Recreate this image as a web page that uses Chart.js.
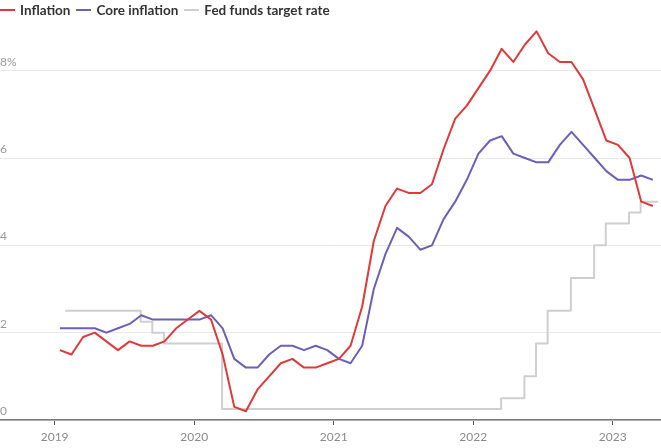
<!DOCTYPE html>
<html>
<head>
<meta charset="utf-8">
<script src="https://cdn.jsdelivr.net/npm/chart.js@4/dist/chart.umd.min.js"></script>
<style>
  html, body { margin: 0; padding: 0; background: #fff; }
  #wrap { position: relative; width: 661px; height: 448px; }
  #legend {
    position: absolute; left: 0; top: 0; height: 20px;
    display: flex; align-items: center;
    font-family: Lato, "Open Sans", sans-serif; font-weight: 700; font-size: 13.5px; color: #333;
  }
  #legend .item { display: flex; align-items: center; margin-right: 6px; }
  #legend .swatch { display: inline-block; width: 15px; height: 2px; margin-right: 5px; }
</style>
</head>
<body>
<div id="wrap">
  <canvas id="chart" width="661" height="448"></canvas>
  <div id="legend"></div>
</div>
<script>
// Monthly series, Jan 2019 – Apr 2023 (annual % change / upper bound of target range)
const yearLabels = ['2019', '2020', '2021', '2022', '2023'];

const inflation = [
  1.6, 1.5, 1.9, 2.0, 1.8, 1.6, 1.8, 1.7, 1.7, 1.8, 2.1, 2.3,
  2.5, 2.3, 1.5, 0.3, 0.2, 0.7, 1.0, 1.3, 1.4, 1.2, 1.2, 1.3,
  1.4, 1.7, 2.6, 4.1, 4.9, 5.3, 5.2, 5.2, 5.4, 6.2, 6.9, 7.2,
  7.6, 8.0, 8.5, 8.2, 8.6, 8.9, 8.4, 8.2, 8.2, 7.8, 7.1, 6.4,
  6.3, 6.0, 5.0, 4.9
];

const coreInflation = [
  2.1, 2.1, 2.1, 2.1, 2.0, 2.1, 2.2, 2.4, 2.3, 2.3, 2.3, 2.3,
  2.3, 2.4, 2.1, 1.4, 1.2, 1.2, 1.5, 1.7, 1.7, 1.6, 1.7, 1.6,
  1.4, 1.3, 1.7, 3.0, 3.8, 4.4, 4.2, 3.9, 4.0, 4.6, 5.0, 5.5,
  6.1, 6.4, 6.5, 6.1, 6.0, 5.9, 5.9, 6.3, 6.6, 6.3, 6.0, 5.7,
  5.5, 5.5, 5.6, 5.5
];

const fedFundsRate = [
  2.5, 2.5, 2.5, 2.5, 2.5, 2.5, 2.5, 2.25, 2.0, 1.75, 1.75, 1.75,
  1.75, 1.75, 0.25, 0.25, 0.25, 0.25, 0.25, 0.25, 0.25, 0.25, 0.25, 0.25,
  0.25, 0.25, 0.25, 0.25, 0.25, 0.25, 0.25, 0.25, 0.25, 0.25, 0.25, 0.25,
  0.25, 0.25, 0.5, 0.5, 1.0, 1.75, 2.5, 2.5, 3.25, 3.25, 4.0, 4.5,
  4.5, 4.75, 5.0, 5.0
];

const seriesNames = ['Inflation', 'Core inflation', 'Fed funds target rate'];
const seriesColors = ['#e0393b', '#6b5fb6', '#cfcfcf'];

// x is measured in months from Jan 1 2019: price data sit mid-month, the policy rate at month end
const midMonth = (arr) => arr.map((v, i) => ({ x: i + 0.45, y: v }));
const monthEnd = (arr) => arr.map((v, i) => ({ x: i + 0.9, y: v }));

const tickFont = { family: 'Lato, "Open Sans", sans-serif', size: 12 };

new Chart(document.getElementById('chart'), {
  type: 'line',
  data: {
    datasets: [
      { label: seriesNames[0], data: midMonth(inflation), borderColor: seriesColors[0], borderWidth: 2 },
      { label: seriesNames[1], data: midMonth(coreInflation), borderColor: seriesColors[1], borderWidth: 2 },
      { label: seriesNames[2], data: monthEnd(fedFundsRate), borderColor: seriesColors[2], borderWidth: 2, stepped: 'middle' }
    ]
  },
  options: {
    responsive: false,
    animation: false,
    layout: { padding: { top: 27, bottom: 0, left: 0, right: 0 } },
    elements: { point: { radius: 0 }, line: { tension: 0, borderJoinStyle: 'round' } },
    plugins: { legend: { display: false }, tooltip: { enabled: false } },
    scales: {
      x: {
        type: 'linear',
        min: -4.7,
        max: 52.15,
        afterBuildTicks: (scale) => {
          scale.ticks = yearLabels.map((_, k) => ({ value: k * 12 }));
        },
        afterFit: (scale) => { scale.height = 28; },
        ticks: {
          callback: (v) => yearLabels[Math.round(v / 12)],
          color: '#8a8a8a',
          font: tickFont,
          padding: 5,
          maxRotation: 0,
          autoSkip: false
        },
        grid: { drawOnChartArea: false, drawTicks: true, tickLength: 5, color: '#555', lineWidth: 1 },
        border: { display: true, color: '#777', width: 1.5 }
      },
      y: {
        min: 0,
        max: 9,
        ticks: {
          stepSize: 2,
          includeBounds: false,
          mirror: true,
          padding: 0,
          labelOffset: -9,
          color: '#9a9a9a',
          font: tickFont,
          callback: (v) => (v === 8 ? '8%' : String(v))
        },
        grid: { color: '#e8e8e8', lineWidth: 1, drawTicks: false },
        border: { display: false }
      }
    }
  }
});

// Legend
const legend = document.getElementById('legend');
seriesNames.forEach((name, k) => {
  const item = document.createElement('span');
  item.className = 'item';
  const sw = document.createElement('span');
  sw.className = 'swatch';
  sw.style.background = seriesColors[k];
  item.appendChild(sw);
  item.appendChild(document.createTextNode(name));
  legend.appendChild(item);
});
</script>
</body>
</html>
